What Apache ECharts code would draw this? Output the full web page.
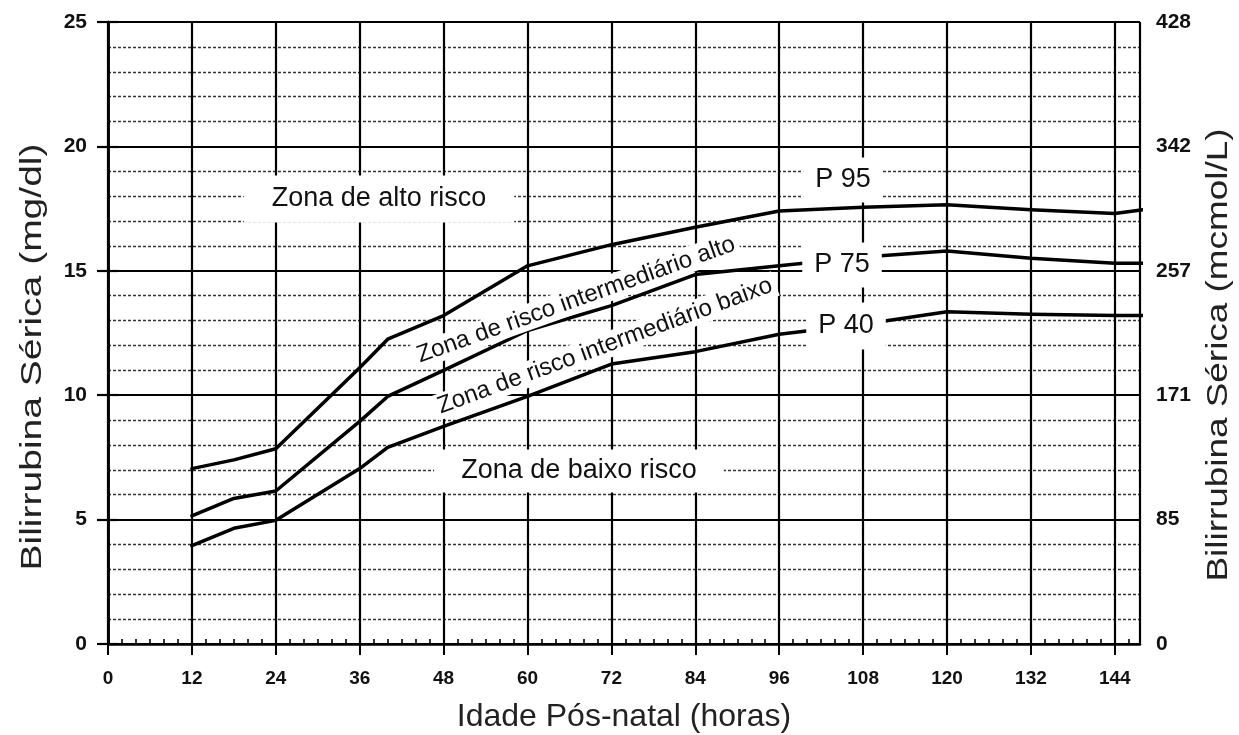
<!DOCTYPE html>
<html>
<head>
<meta charset="utf-8">
<script src="https://cdn.jsdelivr.net/npm/echarts@6/dist/echarts.min.js"></script>
<style>
html,body{margin:0;padding:0;background:#fff;}
#chart{width:1239px;height:735px;}
</style>
</head>
<body>
<div id="chart"></div>
<script>
// Postnatal age (hours)
const hours = [12, 18, 24, 36, 40, 48, 60, 72, 84, 96, 108, 120, 132, 144, 148];
// Percentile curves (mg/dl)
const p95 = [7.05, 7.4, 7.85, 11.1, 12.25, 13.2, 15.2, 16.05, 16.75, 17.4, 17.55, 17.65, 17.45, 17.3, 17.45];
const p75 = [5.15, 5.85, 6.15, 8.95, 9.95, 11.0, 12.6, 13.6, 14.85, 15.2, 15.55, 15.8, 15.5, 15.3, 15.3];
const p40 = [3.95, 4.65, 4.97, 7.05, 7.9, 8.75, 9.95, 11.25, 11.75, 12.45, 12.85, 13.35, 13.25, 13.2, 13.2];
// Right axis tick labels (mcmol/L) for 0,5,10,15,20,25 mg/dl
const rightLabels = ['0', '85', '171', '257', '342', '428'];
// Axis titles
const xTitle = 'Idade Pós-natal (horas)';
const yLeftTitle = 'Bilirrubina Sérica (mg/dl)';
const yRightTitle = 'Bilirrubina Sérica (mcmol/L)';

const FONT = "'Liberation Sans', Arial, Helvetica, sans-serif";
const chart = echarts.init(document.getElementById('chart'));

function pairs(ys) { return hours.map((h, i) => [h, ys[i]]); }

const lineStyle = { color: '#000', width: 3.5, join: 'round', cap: 'round' };
const xTickLabel = { color: '#111', fontSize: 19, fontWeight: 'bold', fontFamily: FONT };
const yTickLabel = { color: '#111', fontSize: 21, fontWeight: 'bold', fontFamily: FONT };

function boxText(text, x, y, size, pad, rot) {
  return { type: 'text', x: x, y: y, z: 100, rotation: (rot || 0) * Math.PI / 180,
    style: { text: text, font: size + 'px ' + FONT, fill: '#111', align: 'center', verticalAlign: 'middle',
      backgroundColor: '#fff', padding: pad } };
}

const option = {
  animation: false,
  backgroundColor: '#fff',
  grid: { left: 108, right: 99, top: 22, bottom: 91, containLabel: false },
  xAxis: [{
    type: 'value', min: 0, max: 147.6, interval: 12,
    axisLine: { show: true, onZero: false, lineStyle: { color: '#000', width: 2.5 } },
    axisTick: { show: true, inside: false, length: 11, lineStyle: { color: '#000', width: 2 } },
    axisLabel: Object.assign({ margin: 25, showMaxLabel: false,
      formatter: v => (Math.abs(v % 12) < 1e-6 ? String(v) : '') }, xTickLabel),
    splitLine: { show: true, lineStyle: { color: '#000', width: 2.2 } }
  }, {
    type: 'value', min: 0, max: 147.6, interval: 2, position: 'bottom',
    axisLine: { show: false },
    axisTick: { show: true, inside: true, length: 5, lineStyle: { color: '#000', width: 1.6 } },
    axisLabel: { show: false },
    splitLine: { show: false }
  }],
  yAxis: [{
    type: 'value', min: 0, max: 25, interval: 5, position: 'left',
    axisLine: { show: true, lineStyle: { color: '#000', width: 2.5 } },
    axisTick: { show: true, length: 11, lineStyle: { color: '#000', width: 2.2 } },
    axisLabel: Object.assign({ margin: 21 }, yTickLabel),
    splitLine: { show: true, lineStyle: { color: '#000', width: 2.2 } },
    minorTick: { show: false, splitNumber: 5 },
    minorSplitLine: { show: true, lineStyle: { color: '#333', width: 1.4, type: [3, 2] } }
  }, {
    type: 'value', min: 0, max: 25, interval: 5, position: 'right',
    axisLine: { show: true, lineStyle: { color: '#000', width: 2.5 } },
    axisTick: { show: true, length: 10, lineStyle: { color: '#000', width: 2.2 } },
    axisLabel: Object.assign({ margin: 16, formatter: (v) => rightLabels[Math.round(v / 5)] }, yTickLabel),
    splitLine: { show: false }
  }],
  series: [
    { name: 'P 95', type: 'line', data: pairs(p95), symbol: 'none', lineStyle: lineStyle, z: 3 },
    { name: 'P 75', type: 'line', data: pairs(p75), symbol: 'none', lineStyle: lineStyle, z: 3 },
    { name: 'P 40', type: 'line', data: pairs(p40), symbol: 'none', lineStyle: lineStyle, z: 3 }
  ],
  graphic: [
    // axis titles
    { type: 'text', x: 624, y: 717, z: 100,
      style: { text: xTitle, font: '32px ' + FONT, fill: '#222', align: 'center', verticalAlign: 'middle' } },
    { type: 'text', x: 33, y: 357, z: 100, rotation: Math.PI / 2, scaleX: 1.3,
      style: { text: yLeftTitle, font: '30px ' + FONT, fill: '#222', align: 'center', verticalAlign: 'middle' } },
    { type: 'text', x: 1219, y: 355, z: 100, rotation: Math.PI / 2, scaleX: 1.23,
      style: { text: yRightTitle, font: '30px ' + FONT, fill: '#222', align: 'center', verticalAlign: 'middle' } },
    // zone and percentile annotations
    boxText('Zona de alto risco', 379, 199, 27, [10, 28, 10, 28]),
    boxText('Zona de baixo risco', 579, 471, 27, [8, 27, 8, 27]),
    boxText('P 95', 843, 180, 27, [9, 12, 9, 12]),
    boxText('P 75', 842, 265, 27, [9, 12, 9, 12]),
    boxText('P 40', 846, 326, 27, [10, 12, 10, 12]),
    boxText('Zona de risco intermediário alto', 576, 300, 24, [1, 4, 1, 4], 19.6),
    boxText('Zona de risco intermediário baixo', 605, 346, 24, [1, 4, 1, 4], 20.2)
  ]
};
chart.setOption(option);
</script>
</body>
</html>
